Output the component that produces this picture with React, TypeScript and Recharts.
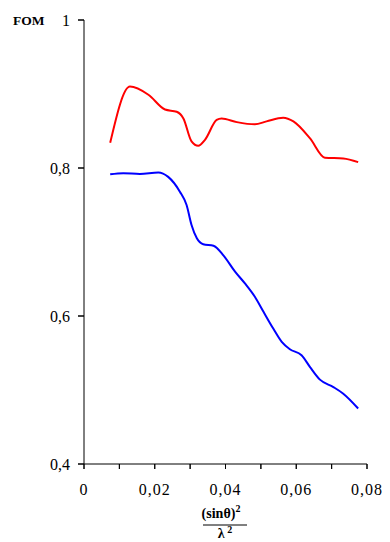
import { LineChart, Line, XAxis, YAxis, Label } from "recharts";

// red curve (upper)
const redX = [0.0074, 0.013, 0.0182, 0.0229, 0.0262, 0.0281, 0.0304, 0.0323, 0.0342, 0.0375, 0.0389, 0.0432, 0.0483, 0.0516, 0.0563, 0.0592, 0.0639, 0.0681, 0.0733, 0.0775];
const redFom = [0.834, 0.91, 0.899, 0.879, 0.876, 0.867, 0.836, 0.83, 0.838, 0.865, 0.867, 0.862, 0.859, 0.863, 0.868, 0.863, 0.84, 0.814, 0.813, 0.808];

// blue curve (lower)
const blueX = [0.0074, 0.0111, 0.0158, 0.021, 0.0238, 0.0271, 0.029, 0.0304, 0.0319, 0.0337, 0.0366, 0.0394, 0.0427, 0.0455, 0.0483, 0.0507, 0.0535, 0.0559, 0.0582, 0.0615, 0.0639, 0.0667, 0.0705, 0.0733, 0.0775];
const blueFom = [0.7915, 0.793, 0.792, 0.794, 0.788, 0.768, 0.75, 0.723, 0.705, 0.697, 0.695, 0.682, 0.66, 0.644, 0.626, 0.606, 0.583, 0.565, 0.555, 0.547, 0.531, 0.514, 0.504, 0.495, 0.475];

const xTicks = [0, 0.01, 0.02, 0.03, 0.04, 0.05, 0.06, 0.07, 0.08];
const xLabelled = [0, 0.02, 0.04, 0.06, 0.08];
const yTicks = [0.4, 0.6, 0.8, 1];

const redData = redX.map((x, i) => ({ x, fom: redFom[i] }));
const blueData = blueX.map((x, i) => ({ x, fom: blueFom[i] }));

const FONT = "Times New Roman, Liberation Serif, DejaVu Serif, serif";
const TICK = 5;
const GAP = 2;

const fmt = (v: number, digits: number) => {
  if (v === 0 || v === 1) return String(v);
  return v.toFixed(digits).replace(".", ",");
};

const XTick = (props: any) => {
  const { x, y, payload } = props;
  const v = payload.value;
  const show = xLabelled.some((t) => Math.abs(t - v) < 1e-6);
  return (
    <g>
      <line x1={x} x2={x} y1={y - TICK - GAP} y2={y - GAP} stroke="#000" strokeWidth={1} />
      {show && (
        <text
          x={x}
          y={y + 24}
          textAnchor="middle"
          style={{ fontFamily: FONT, fontSize: 16, letterSpacing: 1 }}
          fill="#000"
        >
          {fmt(v, 2)}
        </text>
      )}
    </g>
  );
};

const YTick = (props: any) => {
  const { x, y, payload } = props;
  return (
    <g>
      <line x1={x + GAP} x2={x + GAP + TICK + 1} y1={y} y2={y} stroke="#000" strokeWidth={1} />
      <text x={x - 6} y={y + 5.5} textAnchor="end" style={{ fontFamily: FONT, fontSize: 16 }} fill="#000">
        {fmt(payload.value, 1)}
      </text>
    </g>
  );
};

const bold = { fontFamily: FONT, fontWeight: "bold" as const };

export default function App() {
  return (
    <div style={{ position: "absolute", left: 0, top: 0, background: "#fff", fontFamily: FONT }}>
      <LineChart
        width={390}
        height={542}
        margin={{ top: 20, right: 23, left: 24, bottom: 0 }}
      >
        <XAxis
          dataKey="x"
          type="number"
          domain={[0, 0.08]}
          ticks={xTicks}
          allowDuplicatedCategory={false}
          stroke="#000"
          tickLine={{ stroke: "#000" }}
          tickSize={TICK}
          tickMargin={GAP}
          height={78}
          tick={<XTick />}
          interval={0}
        >
          <Label
            content={() => (
              <g fill="#000">
                <text x={221} y={518} textAnchor="middle" style={{ ...bold, fontSize: 14 }}>
                  (sinθ)
                  <tspan style={{ fontSize: 10 }} dy={-6}>2</tspan>
                </text>
                <line x1={203} x2={247} y1={525} y2={525} stroke="#000" strokeWidth={1} />
                <text x={225} y={538} textAnchor="middle" style={{ ...bold, fontSize: 14 }}>
                  λ
                  <tspan style={{ fontSize: 10 }} dy={-5}> 2</tspan>
                </text>
              </g>
            )}
          />
        </XAxis>
        <YAxis
          dataKey="fom"
          type="number"
          domain={[0.4, 1]}
          ticks={yTicks}
          width={60}
          stroke="#000"
          tickLine={{ stroke: "#000" }}
          tickSize={TICK + 1}
          tickMargin={GAP}
          tick={<YTick />}
          interval={0}
        >
          <Label
            content={() => (
              <text x={13} y={25} style={{ ...bold, fontSize: 13.5 }} fill="#000">
                FOM
              </text>
            )}
          />
        </YAxis>
        <Line
          data={redData}
          dataKey="fom"
          type="monotone"
          stroke="#ff0000"
          strokeWidth={2}
          dot={false}
          isAnimationActive={false}
        />
        <Line
          data={blueData}
          dataKey="fom"
          type="monotone"
          stroke="#0000ff"
          strokeWidth={2}
          dot={false}
          isAnimationActive={false}
        />
      </LineChart>
    </div>
  );
}
